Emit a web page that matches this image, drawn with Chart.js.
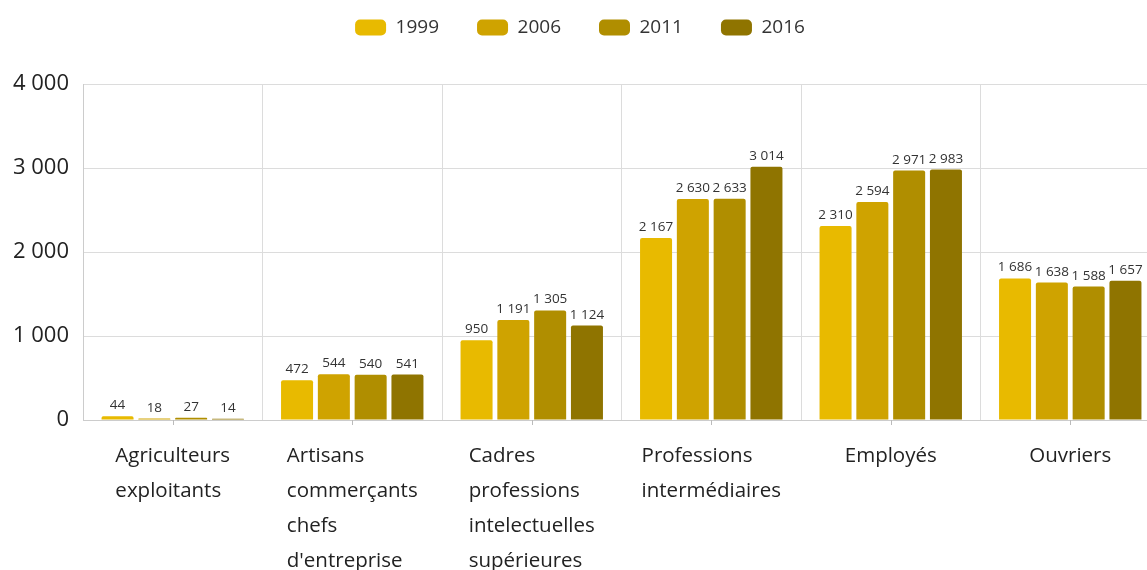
<!DOCTYPE html>
<html>
<head>
<meta charset="utf-8">
<script src="https://cdn.jsdelivr.net/npm/chart.js@4"></script>
<style>
  html, body { margin: 0; padding: 0; background: #fff; overflow: hidden; }
  #wrap { width: 1160px; height: 570px; position: relative; }
</style>
</head>
<body>
<div id="wrap"><canvas id="barChart"></canvas></div>
<script>
// Categories (multi-line labels) and series values
const categories = [
    ['Agriculteurs', 'exploitants'],
    ['Artisans', 'commerçants', 'chefs', "d'entreprise"],
    ['Cadres', 'professions', 'intelectuelles', 'supérieures'],
    ['Professions', 'intermédiaires'],
    ['Employés'],
    ['Ouvriers']
];
const years = ['1999', '2006', '2011', '2016'];
const values1999 = [44, 472, 950, 2167, 2310, 1686];
const values2006 = [18, 544, 1191, 2630, 2594, 1638];
const values2011 = [27, 540, 1305, 2633, 2971, 1588];
const values2016 = [14, 541, 1124, 3014, 2983, 1657];
const yTicks = [0, 1000, 2000, 3000, 4000];
const colors = ['#E8BA00', '#CFA300', '#B08E00', '#8F7400'];

const FONT = "'Open Sans', sans-serif";
const fmt = v => String(v).replace(/\B(?=(\d{3})+(?!\d))/g, ' ');

// Extra room under the legend
const legendSpace = {
    id: 'legendSpace',
    beforeInit(chart) {
        const origFit = chart.legend.fit;
        chart.legend.fit = function () {
            origFit.bind(chart.legend)();
            this.height += 37;
        };
    }
};

// Draws value labels above bars, and left-aligned multi-line category labels
const labelsPlugin = {
    id: 'labelsPlugin',
    afterDatasetsDraw(chart) {
        const ctx = chart.ctx;
        ctx.save();
        ctx.font = '13.5px ' + FONT;
        ctx.fillStyle = '#333';
        ctx.textAlign = 'center';
        ctx.textBaseline = 'bottom';
        chart.data.datasets.forEach((ds, i) => {
            chart.getDatasetMeta(i).data.forEach((bar, j) => {
                ctx.fillText(fmt(ds.data[j]), bar.x, bar.y - 4);
            });
        });

        const xScale = chart.scales.x;
        const bottom = chart.chartArea.bottom;
        ctx.font = '20.5px ' + FONT;
        ctx.fillStyle = '#222';
        ctx.textAlign = 'left';
        ctx.textBaseline = 'middle';
        categories.forEach((lines, j) => {
            const cx = xScale.getPixelForValue(j);
            const w = Math.max(...lines.map(l => ctx.measureText(l).width));
            lines.forEach((l, k) => {
                ctx.fillText(l, cx - w / 2, bottom + 36 + k * 35);
            });
            // small tick at the category centre
            ctx.strokeStyle = '#bbb';
            ctx.lineWidth = 1;
            ctx.beginPath();
            ctx.moveTo(Math.round(cx) + 0.5, bottom);
            ctx.lineTo(Math.round(cx) + 0.5, bottom + 5);
            ctx.stroke();
        });
        ctx.restore();
    }
};

const createChart = () => {
    const ctx = document.getElementById('barChart').getContext('2d');
    const series = [values1999, values2006, values2011, values2016];

    new Chart(ctx, {
        type: 'bar',
        data: {
            labels: categories.map(c => c.join(' ')),
            datasets: years.map((y, i) => ({
                label: y,
                data: series[i],
                backgroundColor: colors[i],
                borderRadius: 2,
                borderSkipped: 'bottom',
                categoryPercentage: 0.82,
                barPercentage: 0.87
            }))
        },
        options: {
            responsive: true,
            maintainAspectRatio: false,
            animation: false,
            layout: { padding: { top: -20, bottom: 150, right: 0 } },
            plugins: {
                legend: {
                    position: 'top',
                    labels: {
                        font: { family: FONT, size: 19 },
                        color: '#333',
                        boxWidth: 31,
                        boxHeight: 16,
                        useBorderRadius: true,
                        borderRadius: 5,
                        padding: 38
                    }
                },
                tooltip: { enabled: false }
            },
            scales: {
                x: {
                    ticks: { display: false },
                    grid: { offset: true, color: '#dcdcdc', drawTicks: false },
                    border: { color: '#ccc' }
                },
                y: {
                    min: 0,
                    max: 4000,
                    afterFit: s => { s.width = 83; },
                    afterBuildTicks: s => { s.ticks = yTicks.map(v => ({ value: v })); },
                    ticks: {
                        font: { family: FONT, size: 22 },
                        color: '#222',
                        padding: 14,
                        callback: v => fmt(v)
                    },
                    grid: { color: '#dcdcdc', drawTicks: false },
                    border: { color: '#ccc' }
                }
            }
        },
        plugins: [legendSpace, labelsPlugin]
    });
};

createChart();
</script>
</body>
</html>
